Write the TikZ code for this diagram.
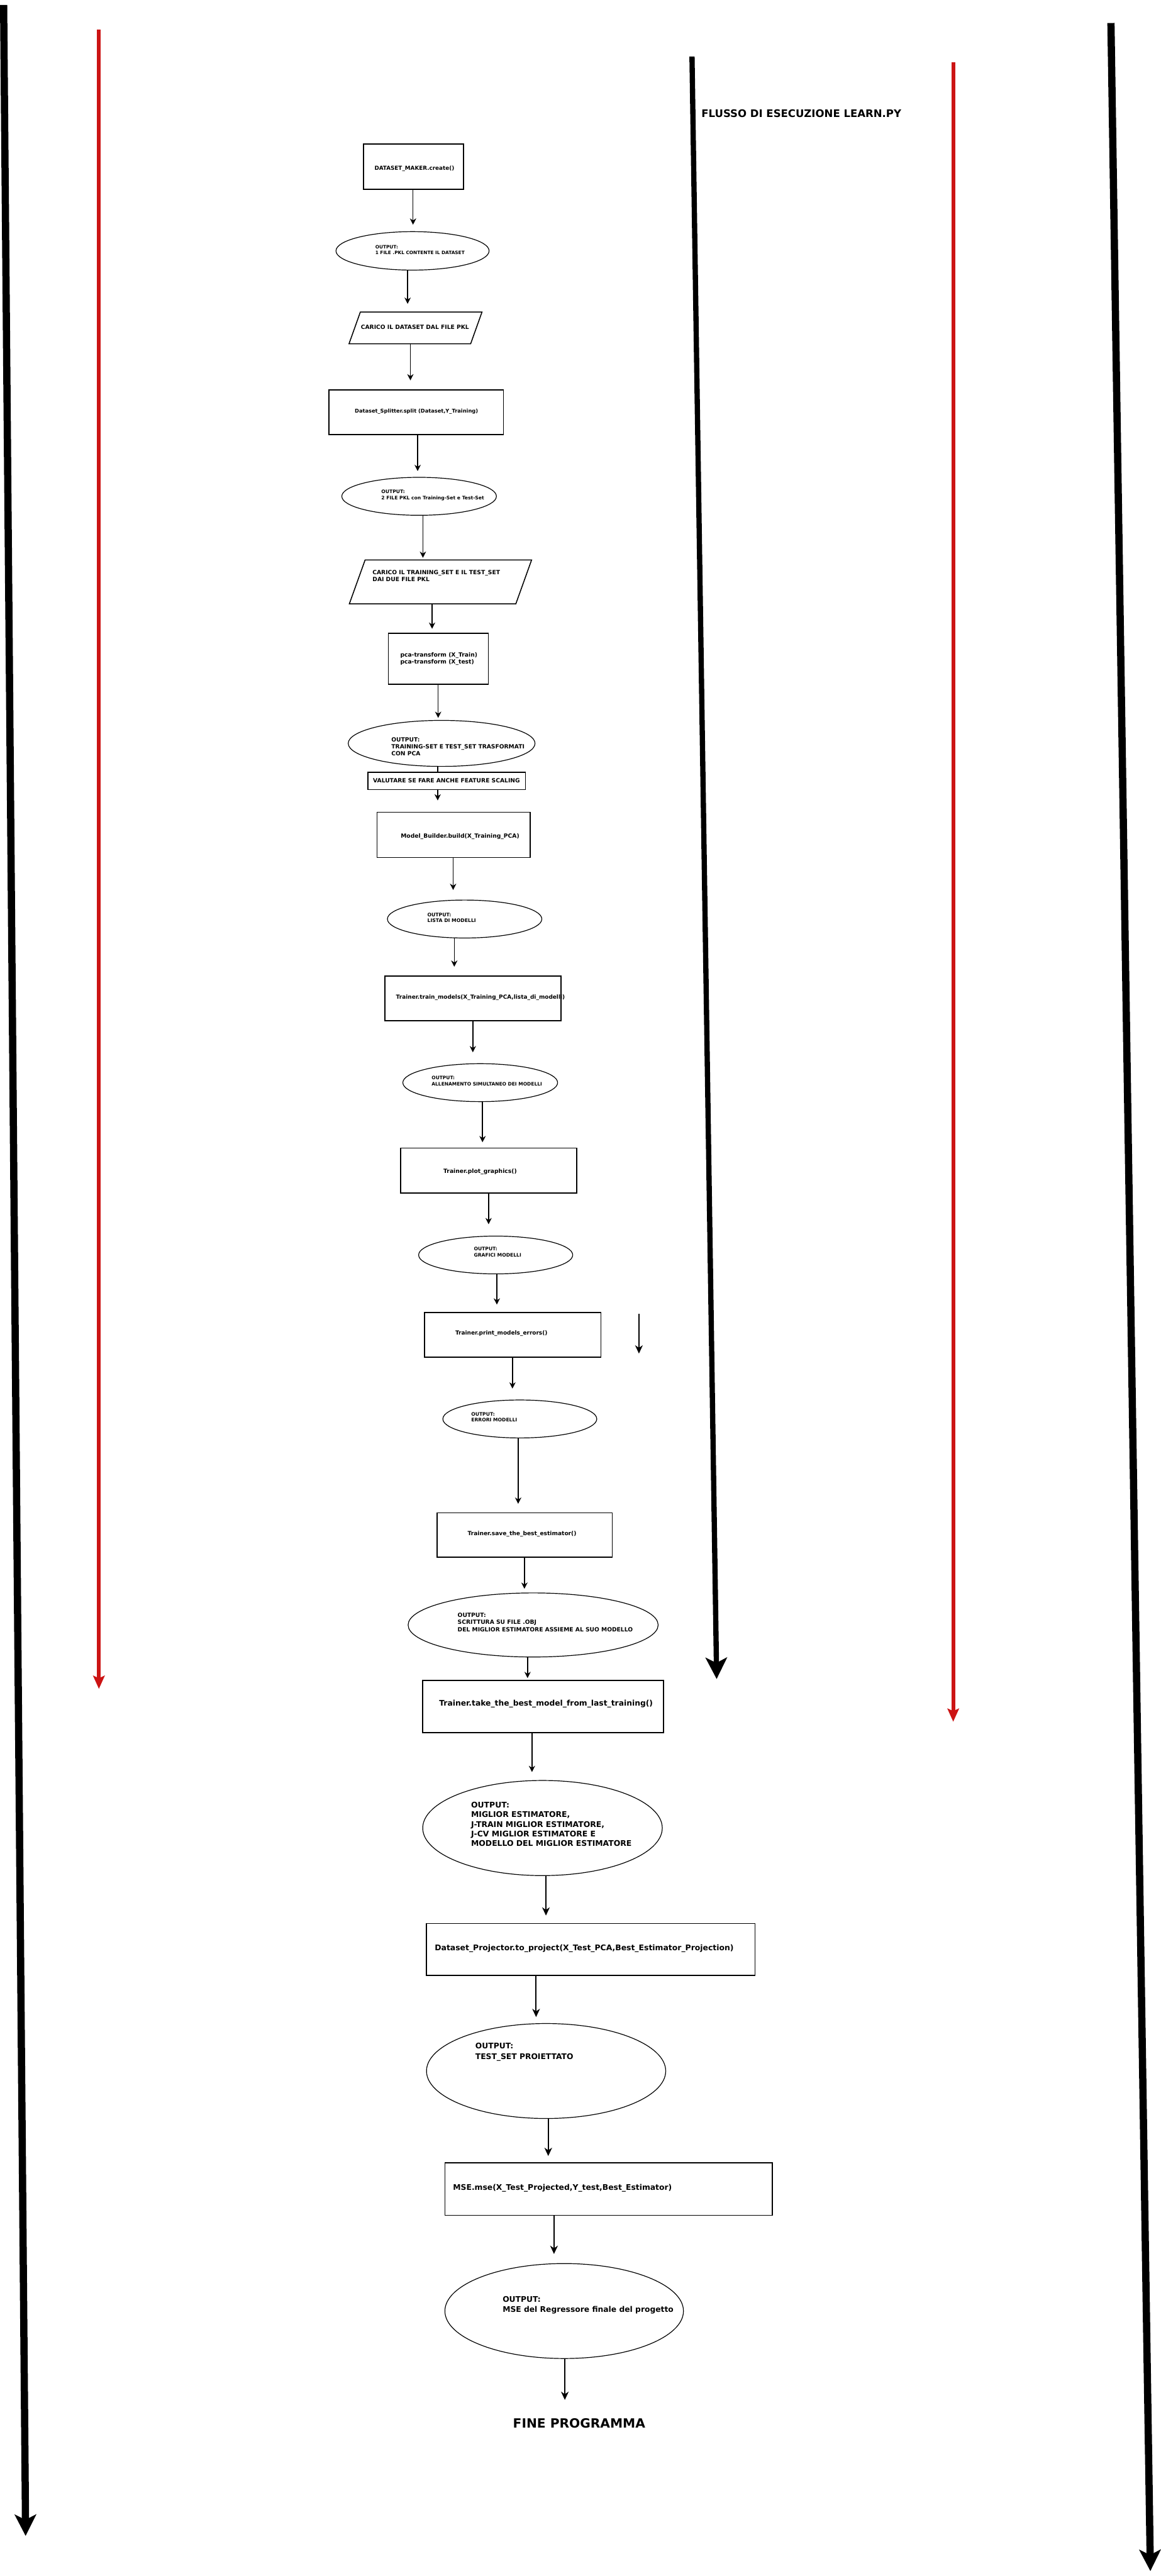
\documentclass[tikz,border=0pt]{standalone}
\usepackage{fontspec}
\setmainfont{DejaVu Sans}
\usetikzlibrary{shapes.geometric, arrows.meta, positioning}
\definecolor{flowred}{RGB}{204,20,20}

\begin{document}
\begin{tikzpicture}[
		x=1mm, y=-1mm,
		proc/.style={draw, rectangle, line width=1.8pt, inner sep=0pt},
		outp/.style={draw, ellipse, line width=1.3pt, inner sep=0pt},
		inp/.style={rectangle, inner sep=0pt},
		para/.style={line width=1.7pt, line join=miter},
		txt/.style 2 args={inner sep=0pt, anchor=west, align=left, font=\fontsize{#1}{#2}\selectfont\bfseries},
		arr/.style={-{Stealth[length=3.8mm, width=3.8mm, inset=1.2mm]}, line width=1.6pt},
		arrbig/.style={-{Stealth[length=5mm, width=4.6mm, inset=1.5mm]}, line width=2.4pt},
		sideblack/.style={-{Stealth[length=13mm, width=13mm, inset=3.2mm]}, line width=4.4mm},
		sidered/.style={-{Stealth[length=8mm, width=7mm, inset=1.5mm]}, line width=2.4mm, draw=flowred}
		]
		
		\fill[white] (0,0) rectangle (706,1568);
		
		% Nodes
		\node[txt={18}{22}] (title) at (426.7,69.2) {FLUSSO DI ESECUZIONE LEARN.PY};
		
		\node[proc, minimum width=60.7mm, minimum height=27.5mm] (maker) at (251.5,101.5) {};
		\node[txt={9.6}{11.5}] (maker-t) at (227.7,102.5) {DATASET\_MAKER.create()};
		
		\node[outp, minimum width=93.2mm, minimum height=23.4mm] (pkl) at (250.9,152.7) {};
		\node[txt={8}{10.2}] (pkl-t) at (228.2,152.2) {OUTPUT:\\1 FILE .PKL CONTENTE IL DATASET};
		
		\node[inp, minimum width=80.8mm, minimum height=19.2mm] (load) at (252.7,199.6) {};
		\draw[para] ([xshift=6.9mm]load.north west) -- (load.north east) -- ([xshift=-6.9mm]load.south east) -- (load.south west) -- cycle;
		\node[txt={10}{12}] (load-t) at (219.4,199.3) {CARICO IL DATASET DAL FILE PKL};
		
		\node[proc, minimum width=106.2mm, minimum height=27.1mm] (split) at (253.2,250.9) {};
		\node[txt={9}{11}] (split-t) at (215.7,250.4) {Dataset\_Splitter.split (Dataset,Y\_Training)};
		
		\node[outp, minimum width=94.1mm, minimum height=23.1mm] (sets) at (254.9,302.1) {};
		\node[txt={8.3}{10.4}] (sets-t) at (231.9,301.5) {OUTPUT:\\2 FILE PKL con Training-Set e Test-Set};
		
		\node[inp, minimum width=110.8mm, minimum height=26.6mm] (loadsets) at (267.9,354.2) {};
		\draw[para] ([xshift=9.6mm]loadsets.north west) -- (loadsets.north east) -- ([xshift=-9.6mm]loadsets.south east) -- (loadsets.south west) -- cycle;
		\node[txt={10}{12.5}] (loadsets-t) at (226.5,350.5) {CARICO IL TRAINING\_SET E IL TEST\_SET\\DAI DUE FILE PKL};
		
		\node[proc, minimum width=60.8mm, minimum height=30.9mm] (pca) at (266.6,401) {};
		\node[txt={10}{12.5}] (pca-t) at (243.4,401.1) {pca-transform (X\_Train)\\pca-transform (X\_test)};
		
		\node[outp, minimum width=113.7mm, minimum height=28mm] (pcaout) at (268.6,452.5) {};
		\node[txt={10}{12.1}] (pcaout-t) at (238,454.4) {OUTPUT:\\TRAINING-SET E TEST\_SET TRASFORMATI\\CON PCA};
		
		\node[proc, minimum width=96mm, minimum height=10.4mm] (scaling) at (271.7,475.4) {};
		\node[txt={10}{12}] (scaling-t) at (226.8,475.2) {VALUTARE SE FARE ANCHE FEATURE SCALING};
		
		\node[proc, minimum width=93.3mm, minimum height=27.5mm] (build) at (275.9,508.2) {};
		\node[txt={10}{12}] (build-t) at (243.7,509.1) {Model\_Builder.build(X\_Training\_PCA)};
		
		\node[outp, minimum width=94mm, minimum height=23.1mm] (models) at (282.6,559.4) {};
		\node[txt={8.4}{10.4}] (models-t) at (259.9,558.6) {OUTPUT:\\LISTA DI MODELLI};
		
		\node[proc, minimum width=107.3mm, minimum height=27.3mm] (train) at (287.7,607.7) {};
		\node[txt={9.75}{12}] (train-t) at (240.8,607.2) {Trainer.train\_models(X\_Training\_PCA,lista\_di\_modelli)};
		
		\node[outp, minimum width=94.2mm, minimum height=23.1mm] (trained) at (292.1,659) {};
		\node[txt={8.15}{10.4}] (trained-t) at (262.5,657.9) {OUTPUT:\\ALLENAMENTO SIMULTANEO DEI MODELLI};
		
		\node[proc, minimum width=107.3mm, minimum height=27.4mm] (plot) at (297.3,712.5) {};
		\node[txt={10}{12}] (plot-t) at (269.7,713.2) {Trainer.plot\_graphics()};
		
		\node[outp, minimum width=93.8mm, minimum height=23mm] (graphs) at (301.5,763.9) {};
		\node[txt={8.3}{10.9}] (graphs-t) at (288.2,762.2) {OUTPUT:\\GRAFICI MODELLI};
		
		\node[proc, minimum width=107.3mm, minimum height=27.2mm] (errs) at (311.9,812.6) {};
		\node[txt={9.75}{12}] (errs-t) at (276.9,811.8) {Trainer.print\_models\_errors()};
		
		\node[outp, minimum width=93.7mm, minimum height=23.1mm] (errout) at (316.2,863.7) {};
		\node[txt={8.3}{10.4}] (errout-t) at (286.6,862.6) {OUTPUT:\\ERRORI MODELLI};
		
		\node[proc, minimum width=106.6mm, minimum height=27.1mm] (save) at (319.2,934.4) {};
		\node[txt={9.9}{12}] (save-t) at (284.4,933.6) {Trainer.save\_the\_best\_estimator()};
		
		\node[outp, minimum width=152.2mm, minimum height=39mm] (saved) at (324.3,989.1) {};
		\node[txt={10}{12.7}] (saved-t) at (278.3,987.4) {OUTPUT:\\SCRITTURA SU FILE .OBJ\\DEL MIGLIOR ESTIMATORE ASSIEME AL SUO MODELLO};
		
		\node[proc, minimum width=146.7mm, minimum height=31.9mm] (take) at (330.3,1038.8) {};
		\node[txt={13.4}{16}] (take-t) at (267.1,1037) {Trainer.take\_the\_best\_model\_from\_last\_training()};
		
		\node[outp, minimum width=145.8mm, minimum height=57.9mm] (best) at (330,1112.7) {};
		\node[txt={13.5}{16.6}] (best-t) at (286.5,1110.4) {OUTPUT:\\MIGLIOR ESTIMATORE,\\J-TRAIN MIGLIOR ESTIMATORE,\\J-CV MIGLIOR ESTIMATORE E\\MODELLO DEL MIGLIOR ESTIMATORE};
		
		\node[proc, minimum width=199.9mm, minimum height=31.6mm] (project) at (359.4,1186.6) {};
		\node[txt={13.5}{16}] (project-t) at (264.4,1186.2) {Dataset\_Projector.to\_project(X\_Test\_PCA,Best\_Estimator\_Projection)};
		
		\node[outp, minimum width=145.6mm, minimum height=57.8mm] (projected) at (332.2,1260.6) {};
		\node[txt={13.4}{18}] (projected-t) at (289.1,1249.1) {OUTPUT:\\TEST\_SET PROIETTATO};
		
		\node[proc, minimum width=199.4mm, minimum height=31.9mm] (mse) at (370.3,1332.5) {};
		\node[txt={13.45}{16}] (mse-t) at (275.5,1332) {MSE.mse(X\_Test\_Projected,Y\_test,Best\_Estimator)};
		
		\node[outp, minimum width=145.2mm, minimum height=57.8mm] (mseout) at (343.2,1406.7) {};
		\node[txt={13.4}{17.6}] (mseout-t) at (305.7,1403.1) {OUTPUT:\\MSE del Regressore finale del progetto};
		
		\node[txt={22}{26}] (fine) at (312,1475) {FINE PROGRAMMA};
		
		% Side arrows
		\coordinate (lk-a) at (2,3);       \coordinate (lk-b) at (15.4,1543.6);
		\coordinate (lr-a) at (60,18);     \coordinate (lr-b) at (60,1028);
		\coordinate (mk-a) at (421,34.4);  \coordinate (mk-b) at (436,1022);
		\coordinate (rr-a) at (580,38);    \coordinate (rr-b) at (580,1048);
		\coordinate (rk-a) at (676,14);    \coordinate (rk-b) at (700,1565);
		\coordinate (stray-a) at (388.7,799.6); \coordinate (stray-b) at (388.7,823.9);
		
		\draw[sideblack] (lk-a) -- (lk-b);
		\draw[sidered] (lr-a) -- (lr-b);
		\draw[sideblack, line width=3.2mm] (mk-a) -- (mk-b);
		\draw[sidered] (rr-a) -- (rr-b);
		\draw[sideblack] (rk-a) -- (rk-b);
		\draw[arrbig] (stray-a) -- (stray-b);
		
		% Arrows
		\draw[arr, shorten >=4mm] (maker.south -| 251.2,0) -- (pkl.north -| 251.2,0);
		\draw[arr, shorten >=5mm] (pkl.south -| 247.9,0) -- (load.north -| 247.9,0);
		\draw[arr, shorten >=5.5mm] (load.south -| 249.6,0) -- (split.north -| 249.6,0);
		\draw[arr, shorten >=3.6mm] (split.south -| 254,0) -- (sets.north -| 254,0);
		\draw[arr, shorten >=1.3mm] (sets.south -| 257.2,0) -- (loadsets.north -| 257.2,0);
		\draw[arr, shorten >=2.5mm] (loadsets.south -| 262.8,0) -- (pca.north -| 262.8,0);
		\draw[arr, shorten >=1.3mm] (pca.south -| 266.5,0) -- (pcaout.north -| 266.5,0);
		\draw[line width=1.6pt] (pcaout.south -| 266.2,0) -- (scaling.north -| 266.2,0);
		\draw[arr, shorten >=6.9mm] (scaling.south -| 266.2,0) -- (build.north -| 266.2,0);
		\draw[arr, shorten >=5.9mm] (build.south -| 275.6,0) -- (models.north -| 275.6,0);
		\draw[arr, shorten >=5.3mm] (models.south -| 276.3,0) -- (train.north -| 276.3,0);
		\draw[arr, shorten >=6.7mm] (train.south -| 287.6,0) -- (trained.north -| 287.6,0);
		\draw[arr, shorten >=3.2mm] (trained.south -| 293.5,0) -- (plot.north -| 293.5,0);
		\draw[arr, shorten >=7mm] (plot.south -| 297.2,0) -- (graphs.north -| 297.2,0);
		\draw[arr, shorten >=4.6mm] (graphs.south -| 302.2,0) -- (errs.north -| 302.2,0);
		\draw[arr, shorten >=6.7mm] (errs.south -| 311.7,0) -- (errout.north -| 311.7,0);
		\draw[arr, shorten >=5.2mm] (errout.south -| 315.2,0) -- (save.north -| 315.2,0);
		\draw[arr, shorten >=2.3mm] (save.south -| 319,0) -- (saved.north -| 319,0);
		\draw[arr, shorten >=1.1mm] (saved.south -| 320.9,0) -- (take.north -| 320.9,0);
		\draw[arr, shorten >=4.9mm] (take.south -| 323.6,0) -- (best.north -| 323.6,0);
		\draw[arrbig, shorten >=4.5mm] (best.south -| 332.1,0) -- (project.north -| 332.1,0);
		\draw[arrbig, shorten >=3.7mm] (project.south -| 326.1,0) -- (projected.north -| 326.1,0);
		\draw[arrbig, shorten >=3.9mm] (projected.south -| 333.5,0) -- (mse.north -| 333.5,0);
		\draw[arrbig, shorten >=5.6mm] (mse.south -| 337,0) -- (mseout.north -| 337,0);
		\draw[arrbig, shorten >=11.2mm] (mseout.south -| 343.6,0) -- (fine.north -| 343.6,0);
		
	\end{tikzpicture}
\end{document}
